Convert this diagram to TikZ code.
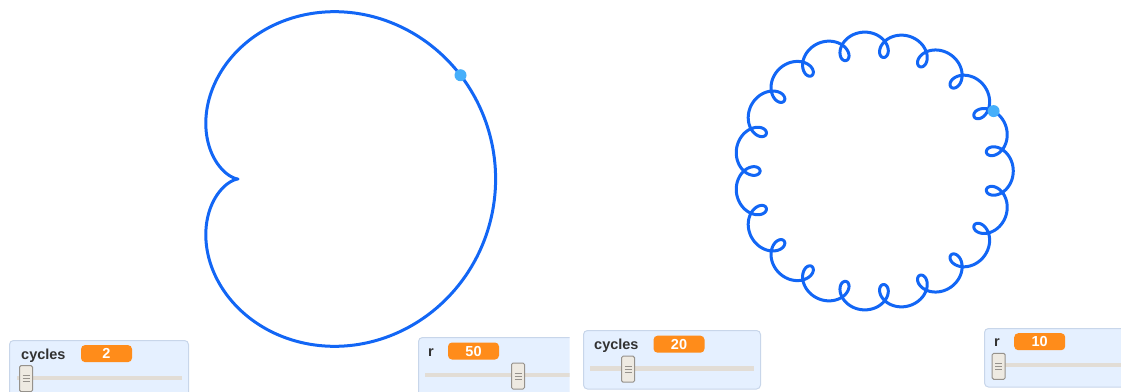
\documentclass[tikz,border=0pt]{standalone}
\usepackage{fontspec}
\setmainfont{Liberation Sans}
\definecolor{curveblue}{RGB}{18,102,245}
\definecolor{penblue}{RGB}{70,175,250}
\definecolor{panelfill}{RGB}{229,240,255}
\definecolor{panelline}{RGB}{200,214,234}
\definecolor{valorange}{RGB}{255,140,26}
\definecolor{labelgray}{RGB}{50,50,50}
\definecolor{trackgray}{RGB}{226,221,214}
\definecolor{knobfill}{RGB}{238,234,226}
\definecolor{knobline}{RGB}{150,146,140}
\tikzset{
  curve/.style={draw=curveblue, line width=3pt, line join=round},
  pen/.style={circle, fill=penblue, inner sep=0pt, minimum size=12pt},
  panel/.style={draw=panelline, fill=panelfill, rounded corners=4pt, line width=1pt},
  vlabel/.style={anchor=base west, text=labelgray, inner sep=0pt,
    font=\fontsize{14.5}{16}\selectfont\bfseries},
  valbox/.style={fill=valorange, rounded corners=4pt, text=white, inner sep=0pt,
    minimum width=51pt, minimum height=17pt, text height=10.5pt, text depth=0pt,
    font=\fontsize{14.5}{16}\selectfont\bfseries},
  track/.style={draw=trackgray, line width=4.5pt},
  knob/.style={draw=knobline, fill=knobfill, line width=1pt, rounded corners=1.5pt,
    inner sep=0pt, minimum width=13pt, minimum height=26pt},
  grip/.style={draw=knobline, line width=0.8pt}
}
% knob with three grip lines: #1 = name, #2 = centre
\newcommand{\sliderknob}[2]{%
  \node[knob] (#1) at #2 {};
  \draw[grip] ([xshift=-3.5pt]#1.center) -- ([xshift=3.5pt]#1.center);
  \draw[grip] ([xshift=-3.5pt,yshift=3pt]#1.center) -- ([xshift=3.5pt,yshift=3pt]#1.center);
  \draw[grip] ([xshift=-3.5pt,yshift=-3pt]#1.center) -- ([xshift=3.5pt,yshift=-3pt]#1.center);
}
\begin{document}
\begin{tikzpicture}[x=1pt,y=-1pt]
\useasboundingbox (0,0) rectangle (1121,391);

% ---- first stage: cardioid, cycles = 2, r = 50 ----
\begin{scope}
\clip (0,0) rectangle (569.5,391);
\draw[curve] plot[domain=0:360, samples=361, smooth, variable=\t]
  ({302.4 + 1.288*(100*cos(\t) + 50*cos(2*\t))},
   {179 - 1.288*(100*sin(\t) + 50*sin(2*\t))}) -- cycle;
\node[pen] (pen1) at ({302.4 + 1.288*(100*cos(25) + 50*cos(50))},
                     {179 - 1.288*(100*sin(25) + 50*sin(50))}) {};

% slider: cycles
\path[panel] (9.5,340.5) rectangle (188.5,400);
\node[vlabel] (cyclesA) at (21,359) {cycles};
\node[valbox] (cyclesAval) at (106.5,353.6) {2};
\draw[track] (17,378) -- (182,378);
\sliderknob{knobA}{(26,378.7)}

% slider: r
\path[panel] (418.5,337.5) rectangle (620,400);
\node[vlabel] (rA) at (428,356.7) {r};
\node[valbox] (rAval) at (473.5,351) {50};
\draw[track] (425,375) -- (620,375);
\sliderknob{knobB}{(518,376)}
\end{scope}

% ---- second stage: 19 loops, cycles = 20, r = 10 ----
\draw[curve] plot[domain=0:360, samples=1441, smooth, variable=\t]
  ({874 + 1.266*(100*cos(\t) + 10*cos(20*\t))},
   {171 - 1.266*(100*sin(\t) + 10*sin(20*\t))}) -- cycle;
\node[pen] (pen2) at ({874 + 1.266*(100*cos(22) + 10*cos(440))},
                     {171 - 1.266*(100*sin(22) + 10*sin(440))}) {};

% slider: cycles
\path[panel] (583.5,330.5) rectangle (760.5,389);
\node[vlabel] (cyclesB) at (594,349) {cycles};
\node[valbox] (cyclesBval) at (679,344.2) {20};
\draw[track] (590,368.3) -- (754,368.3);
\sliderknob{knobC}{(628,369.2)}

% slider: r
\path[panel] (984.5,328.5) rectangle (1140,387);
\node[vlabel] (rB) at (994,346.7) {r};
\node[valbox] (rBval) at (1039.7,341.7) {10};
\draw[track] (1000,365) -- (1140,365);
\sliderknob{knobD}{(998.7,366.3)}
\end{tikzpicture}
\end{document}
